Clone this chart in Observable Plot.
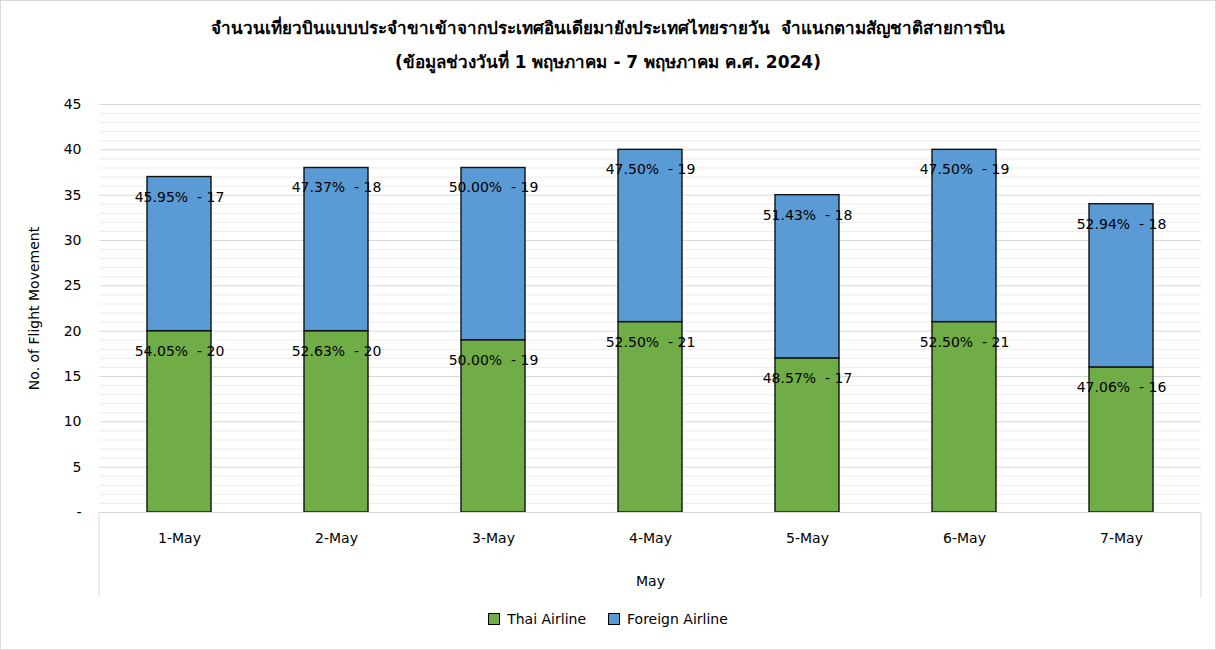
<!DOCTYPE html>
<html>
<head>
<meta charset="utf-8">
<script src="https://cdn.jsdelivr.net/npm/d3@7"></script>
<script src="https://cdn.jsdelivr.net/npm/@observablehq/plot@0.6"></script>
<style>
  html, body { margin: 0; padding: 0; background: #fff; }
  #wrap { position: relative; width: 1214px; height: 648px; border: 1px solid #d9d9d9; overflow: hidden; font-family: "DejaVu Sans", Tahoma, sans-serif; color: #000; }
  .title { position: absolute; left: 0; width: 1214px; text-align: center; font-weight: bold; font-size: 17px; }
  #chart { position: absolute; left: 0; top: 89px; }
  #legend { position: absolute; top: 610px; left: 0; width: 1214px; display: flex; justify-content: center; gap: 22px; font-size: 14px; }
  .item { display: flex; align-items: center; gap: 7px; }
  .sw { width: 12px; height: 12px; border: 1px solid #000; box-sizing: border-box; display: inline-block; }
</style>
</head>
<body>
<div id="wrap">
  <div class="title" style="top:13px">จำนวนเที่ยวบินแบบประจำขาเข้าจากประเทศอินเดียมายังประเทศไทยรายวัน&nbsp; จำแนกตามสัญชาติสายการบิน</div>
  <div class="title" style="top:47px">(ข้อมูลช่วงวันที่ 1 พฤษภาคม - 7 พฤษภาคม ค.ศ. 2024)</div>
  <div id="chart"></div>
  <div id="legend"></div>
</div>
<script>
const dates = ["1-May", "2-May", "3-May", "4-May", "5-May", "6-May", "7-May"];
const seriesNames = ["Thai Airline", "Foreign Airline"];
const thaiValues = [20, 20, 19, 21, 17, 21, 16];
const foreignValues = [17, 18, 19, 19, 18, 19, 18];
const thaiPct = ["54.05%", "52.63%", "50.00%", "52.50%", "48.57%", "52.50%", "47.06%"];
const foreignPct = ["45.95%", "47.37%", "50.00%", "47.50%", "51.43%", "47.50%", "52.94%"];
const yTicks = [0, 5, 10, 15, 20, 25, 30, 35, 40, 45];
const colors = ["#70ad47", "#5b9bd5"];

const rows = [];
dates.forEach((d, i) => {
  rows.push({date: d, series: seriesNames[0], value: thaiValues[i], label: `${thaiPct[i]}\u00a0 - ${thaiValues[i]}`});
  rows.push({date: d, series: seriesNames[1], value: foreignValues[i], label: `${foreignPct[i]}\u00a0 - ${foreignValues[i]}`});
});

const W = 1214, H = 516;
const mTop = 14, mBottom = 94, mLeft = 98, mRight = 14;

const boxMark = (index, scales, values, dims) => {
  const g = d3.create("svg:g");
  const x0 = dims.marginLeft, x1 = dims.width - dims.marginRight;
  const yb = dims.height - dims.marginBottom;
  g.append("path")
    .attr("d", `M${x0},${yb}V${yb + 86}M${x1},${yb}V${yb + 86}`)
    .attr("stroke", "#d9d9d9").attr("fill", "none");
  return g.node();
};

const plot = Plot.plot({
  width: W, height: H,
  marginTop: mTop, marginBottom: mBottom, marginLeft: mLeft, marginRight: mRight,
  style: {fontFamily: "'DejaVu Sans', Tahoma, sans-serif", fontSize: "14px", color: "#000", background: "#fff"},
  x: {domain: dates, paddingInner: 0.59, paddingOuter: 0.295, align: 0.5, label: null},
  y: {domain: [0, 45], label: null},
  color: {domain: seriesNames, range: colors},
  marks: [
    Plot.ruleY(d3.range(1, 46).filter(v => v % 5 !== 0), {y: d => d, stroke: "#ececec", strokeWidth: 1}),
    Plot.ruleY(yTicks.filter(v => v > 0), {y: d => d, stroke: "#d9d9d9", strokeWidth: 1}),
    Plot.axisY({ticks: yTicks, tickSize: 0, tickPadding: 18, tickFormat: v => v === 0 ? "-" : String(v), label: null, fontSize: 14}),
    Plot.axisX({tickSize: 0, tickPadding: 21, label: null, fontSize: 14}),
    Plot.barY(rows, Plot.stackY({x: "date", y: "value", fill: "series", stroke: "#111", strokeWidth: 1.4, order: seriesNames})),
    Plot.text(rows, Plot.stackY2({x: "date", y: "value", z: "series", order: seriesNames, text: "label", dy: 20, fill: "#000", fontSize: 14})),
    Plot.ruleY([0], {stroke: "#d9d9d9"}),
    boxMark,
    Plot.text(["May"], {frameAnchor: "bottom", dy: 69, text: d => d, fontSize: 14, lineAnchor: "middle"}),
    Plot.text(["No. of Flight Movement"], {frameAnchor: "left", dx: -65, rotate: -90, text: d => d, fontSize: 14, textAnchor: "middle", lineAnchor: "middle"})
  ]
});
document.getElementById("chart").appendChild(plot);

const legend = document.getElementById("legend");
seriesNames.forEach((s, i) => {
  const it = document.createElement("div");
  it.className = "item";
  it.innerHTML = `<span class="sw" style="background:${colors[i]}"></span><span>${s}</span>`;
  legend.appendChild(it);
});
</script>
</body>
</html>
